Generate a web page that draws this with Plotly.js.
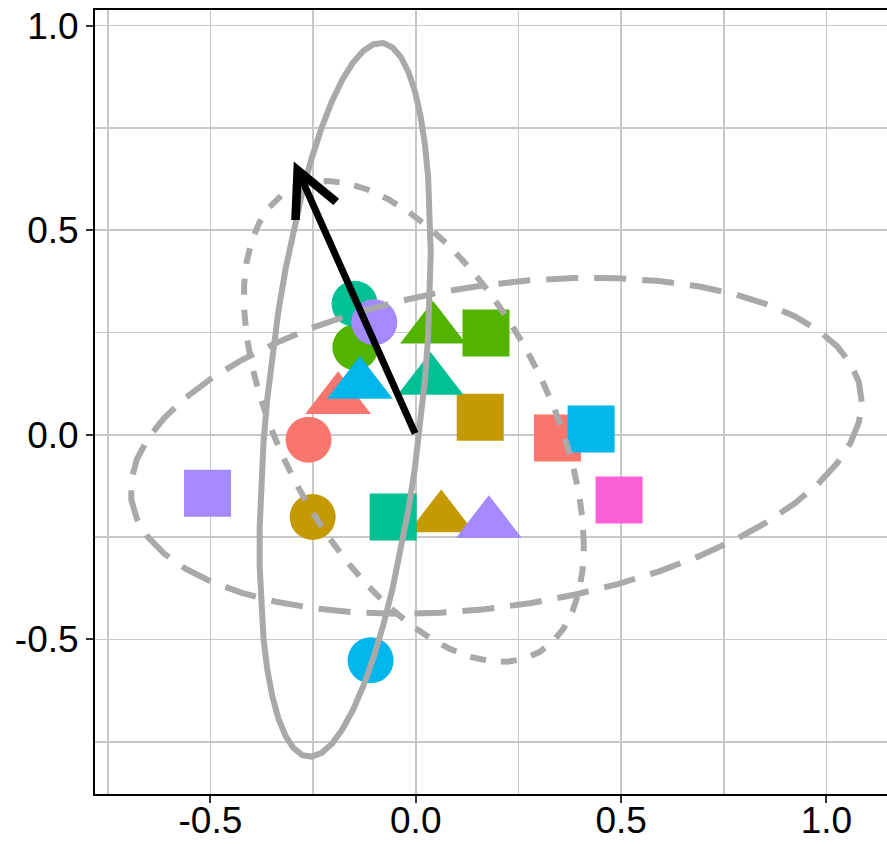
<!DOCTYPE html>
<html>
<head>
<meta charset="utf-8">
<script src="https://cdn.plot.ly/plotly-3.0.1.min.js"></script>
<style>
  html, body { margin: 0; padding: 0; overflow: hidden; background: #ffffff; }
  #chart { width: 889px; height: 845px; }
</style>
</head>
<body>
<div id="chart"></div>
<script>
// ---- data ----
// colour groups (ggplot hue palette order) and shape groups
const groups  = ['g1', 'g2', 'g3', 'g4', 'g5', 'g6', 'g7'];
const shapes  = ['circle', 'triangle', 'square'];

// points, in drawing order
const ptGroup = ['g1','g1','g1',
                 'g2','g2','g2',
                 'g3','g3','g3',
                 'g4','g4','g4',
                 'g5','g5','g5',
                 'g6','g6','g6',
                 'g7'];
const ptShape = ['circle','triangle','square',
                 'circle','triangle','square',
                 'circle','triangle','square',
                 'circle','triangle','square',
                 'circle','triangle','square',
                 'circle','triangle','square',
                 'square'];
const ptX = [-0.261, -0.189,  0.345,
             -0.251,  0.062,  0.157,
             -0.147,  0.042,  0.171,
             -0.149,  0.036, -0.055,
             -0.110, -0.136,  0.427,
             -0.101,  0.178, -0.507,
              0.495];
const ptY = [-0.012,  0.086, -0.008,
             -0.201, -0.203,  0.043,
              0.214,  0.258,  0.249,
              0.320,  0.133, -0.201,
             -0.551,  0.123,  0.014,
              0.275, -0.217, -0.143,
             -0.159];

// arrow (from tail to head)
const arrowX = [0.0, -0.297];
const arrowY = [0.0,  0.668];

// axis ticks
const xTickVals = [-0.5, 0.0, 0.5, 1.0];
const xTickText = ['-0.5', '0.0', '0.5', '1.0'];
const yTickVals = [-0.5, 0.0, 0.5, 1.0];
const yTickText = ['-0.5', '0.0', '0.5', '1.0'];
const xMinorVals = [-0.75, -0.25, 0.25, 0.75];
const yMinorVals = [-0.75, -0.25, 0.25, 0.75];

// ---- styles ----
const palette = {g1:'#F8766D', g2:'#C49A00', g3:'#53B400', g4:'#00C094', g5:'#00B6EB', g6:'#A58AFF', g7:'#FB61D7'};
const symbolOf = {circle:'circle', triangle:'triangle-up', square:'square'};
const sizeOf = {circle:46, triangle:57, square:47};
const ellipseDash = {circle:'solid', triangle:'16px,15px', square:'32px,16px'};

// ---- stat_ellipse (type "t", level 0.95) as in ggplot2 ----
function covTrob(xs, ys) {
  const nu = 5, p = 2, maxit = 25, tol = 0.01, n = xs.length;
  let w = new Array(n).fill(1);
  let loc = [xs.reduce((a,b)=>a+b,0)/n, ys.reduce((a,b)=>a+b,0)/n];
  let X = [];
  for (let it = 0; it < maxit; it++) {
    const w0 = w.slice();
    X = xs.map((x,i)=>[x-loc[0], ys[i]-loc[1]]);
    const sw = w.reduce((a,b)=>a+b,0);
    let a=0,b=0,c=0;
    X.forEach((v,i)=>{a+=w[i]*v[0]*v[0]; b+=w[i]*v[0]*v[1]; c+=w[i]*v[1]*v[1];});
    a/=sw; b/=sw; c/=sw;
    const det = a*c-b*b;
    const Q = X.map(v => (c*v[0]*v[0] - 2*b*v[0]*v[1] + a*v[1]*v[1]) / det);
    w = Q.map(q => (nu+p)/(nu+q));
    const s2 = w.reduce((a,b)=>a+b,0);
    loc = [xs.reduce((acc,x,i)=>acc+w[i]*x,0)/s2, ys.reduce((acc,y,i)=>acc+w[i]*y,0)/s2];
    if (w.every((v,i)=>Math.abs(v-w0[i]) < tol)) break;
  }
  let a=0,b=0,c=0;
  X.forEach((v,i)=>{a+=w[i]*v[0]*v[0]; b+=w[i]*v[0]*v[1]; c+=w[i]*v[1]*v[1];});
  return {cov:[a/n, b/n, c/n], center: loc};
}
function statEllipse(xs, ys) {
  const level = 0.95, segments = 51;
  const dfd = xs.length - 1;
  const fq = dfd/2 * (Math.pow(1-level, -2/dfd) - 1);  // qf(level, 2, dfd)
  const radius = Math.sqrt(2 * fq);
  const v = covTrob(xs, ys);
  const [a,b,c] = v.cov;
  const r11 = Math.sqrt(a), r12 = b/r11, r22 = Math.sqrt(c - r12*r12);
  const ex = [], ey = [];
  for (let k = 0; k <= segments; k++) {
    const t = k * 2 * Math.PI / segments;
    const u = Math.cos(t), s = Math.sin(t);
    ex.push(v.center[0] + radius * (u*r11));
    ey.push(v.center[1] + radius * (u*r12 + s*r22));
  }
  return {x: ex, y: ey};
}

const traces = [];
traces.push({
  type: 'scatter', mode: 'markers',
  x: ptX, y: ptY,
  marker: {
    color: ptGroup.map(g => palette[g]),
    symbol: ptShape.map(s => symbolOf[s]),
    size: ptShape.map(s => sizeOf[s]),
    opacity: 1,
    line: {width: 0}
  },
  showlegend: false, hoverinfo: 'skip'
});
shapes.forEach(sh => {
  const xs = [], ys = [];
  ptShape.forEach((s,i) => { if (s === sh) { xs.push(ptX[i]); ys.push(ptY[i]); } });
  const e = statEllipse(xs, ys);
  traces.push({
    type: 'scatter', mode: 'lines', x: e.x, y: e.y,
    line: {color: '#A9A9A9', width: 6, dash: ellipseDash[sh]},
    showlegend: false, hoverinfo: 'skip'
  });
});

const gridCol = '#C8C8C8';
const tickFont = {family: 'Liberation Sans, Arial, sans-serif', size: 37, color: '#000000'};
const layout = {
  width: 889, height: 845,
  margin: {l: 95, r: 2, t: 10, b: 51, pad: 0},
  paper_bgcolor: '#ffffff', plot_bgcolor: '#ffffff',
  showlegend: false,
  xaxis: {
    range: [-0.781, 1.1474],
    tickmode: 'array', tickvals: xTickVals, ticktext: xTickText,
    showgrid: true, gridcolor: gridCol, gridwidth: 1.6,
    minor: {tickmode: 'array', tickvals: xMinorVals, showgrid: true, gridcolor: gridCol, gridwidth: 1.6, ticks: ''},
    zeroline: false,
    showline: true, linecolor: '#000000', linewidth: 2, mirror: true,
    ticks: 'outside', ticklen: 7, tickwidth: 2, tickcolor: '#333333',
    ticklabelstandoff: -14,
    tickfont: tickFont
  },
  yaxis: {
    range: [-0.8775, 1.038],
    tickmode: 'array', tickvals: yTickVals, ticktext: yTickText,
    showgrid: true, gridcolor: gridCol, gridwidth: 1.6,
    minor: {tickmode: 'array', tickvals: yMinorVals, showgrid: true, gridcolor: gridCol, gridwidth: 1.6, ticks: ''},
    zeroline: false,
    showline: true, linecolor: '#000000', linewidth: 2, mirror: true,
    ticks: 'outside', ticklen: 7, tickwidth: 2, tickcolor: '#333333',
    tickfont: tickFont
  },
  annotations: [{
    x: arrowX[1], y: arrowY[1], xref: 'x', yref: 'y',
    ax: arrowX[0], ay: arrowY[0], axref: 'x', ayref: 'y',
    text: '', showarrow: true,
    arrowhead: 5, arrowsize: 1.25, arrowwidth: 7, arrowcolor: '#000000'
  }]
};

Plotly.newPlot('chart', traces, layout, {staticPlot: true, displayModeBar: false});
</script>
</body>
</html>
